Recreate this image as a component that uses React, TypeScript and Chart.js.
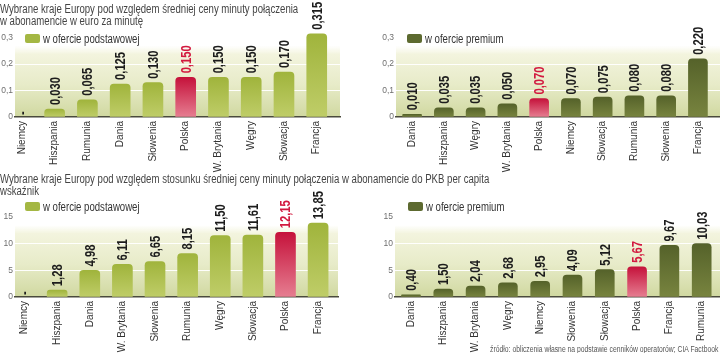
import React, { useEffect, useRef } from 'react';
import { Chart, registerables } from 'chart.js';

Chart.register(...registerables);

// ---------- data ----------
const basicPriceCountries = ['Niemcy', 'Hiszpania', 'Rumunia', 'Dania', 'Słowenia', 'Polska', 'W. Brytania', 'Węgry', 'Słowacja', 'Francja'];
const basicPriceValues: (number | null)[] = [null, 0.03, 0.065, 0.125, 0.13, 0.15, 0.15, 0.15, 0.17, 0.315];

const premiumPriceCountries = ['Dania', 'Hiszpania', 'Węgry', 'W. Brytania', 'Polska', 'Niemcy', 'Słowacja', 'Rumunia', 'Słowenia', 'Francja'];
const premiumPriceValues: (number | null)[] = [0.01, 0.035, 0.035, 0.05, 0.07, 0.07, 0.075, 0.08, 0.08, 0.22];

const basicRatioCountries = ['Niemcy', 'Hiszpania', 'Dania', 'W. Brytania', 'Słowenia', 'Rumunia', 'Węgry', 'Słowacja', 'Polska', 'Francja'];
const basicRatioValues: (number | null)[] = [null, 1.28, 4.98, 6.11, 6.65, 8.15, 11.5, 11.61, 12.15, 13.85];

const premiumRatioCountries = ['Dania', 'Hiszpania', 'W. Brytania', 'Węgry', 'Niemcy', 'Słowenia', 'Słowacja', 'Polska', 'Francja', 'Rumunia'];
const premiumRatioValues: (number | null)[] = [0.4, 1.5, 2.04, 2.68, 2.95, 4.09, 5.12, 5.67, 9.67, 10.03];

const priceTickValues = [0, 0.1, 0.2, 0.3];
const priceTickLabels = ['0', '0,1', '0,2', '0,3'];
const ratioTickValues = [0, 5, 10, 15];
const ratioTickLabels = ['0', '5', '10', '15'];

const highlightCountry = 'Polska';
const basicLegend = 'w ofercie podstawowej';
const premiumLegend = 'w ofercie premium';

const title1 = ['Wybrane kraje Europy pod względem średniej ceny minuty połączenia', 'w abonamencie w euro za minutę'];
const title2 = ['Wybrane kraje Europy pod względem stosunku średniej ceny minuty połączenia w abonamencie do PKB per capita', 'wskaźnik'];
const sourceText = 'źródło: obliczenia własne na podstawie cenników operatorów; CIA Factbook';

// ---------- styles ----------
const FONT = "'Liberation Sans', Arial, sans-serif";
const NARROW = 0.8;
const COLORS = {
  basicTop: '#a0b43c',
  basicBottom: '#bfcd68',
  premiumTop: '#55622a',
  premiumBottom: '#78843f',
  redTop: '#c5123b',
  redBottom: '#e67e91',
  basicSwatch: '#a4b743',
  premiumSwatch: '#5d6a30',
  label: '#1c1c1c',
  labelRed: '#d2193f',
  tick: '#6f6f6f',
  cat: '#333333',
  axis: '#4a4a3c',
};

type Panel = {
  key: string;
  left: number; top: number; width: number; height: number;
  categories: string[]; values: (number | null)[];
  decimals: number; tickValues: number[]; tickLabels: string[];
  yMax: number; bandTop: number;
  xMin: number; xMax: number;
  axisWidth: number; axisHeight: number; padRight: number;
  barThickness: number; tone: 'basic' | 'premium';
  legend: string; legendLeft: number; legendTop: number;
};

const panels: Panel[] = [
  {
    key: 'p1', left: 0, top: 0, width: 345, height: 178,
    categories: basicPriceCountries, values: basicPriceValues, decimals: 3,
    tickValues: priceTickValues, tickLabels: priceTickLabels,
    yMax: 0.4427, bandTop: 0.27, xMin: -0.21, xMax: 9.71,
    axisWidth: 15, axisHeight: 61, padRight: 5, barThickness: 20, tone: 'basic',
    legend: basicLegend, legendLeft: 25, legendTop: 34,
  },
  {
    key: 'p2', left: 360, top: 0, width: 360, height: 178,
    categories: premiumPriceCountries, values: premiumPriceValues, decimals: 3,
    tickValues: priceTickValues, tickLabels: priceTickLabels,
    yMax: 0.4427, bandTop: 0.27, xMin: -0.507, xMax: 9.695,
    axisWidth: 36, axisHeight: 61, padRight: 0, barThickness: 19, tone: 'premium',
    legend: premiumLegend, legendLeft: 407, legendTop: 34,
  },
  {
    key: 'p3', left: 0, top: 180, width: 345, height: 173,
    categories: basicRatioCountries, values: basicRatioValues, decimals: 2,
    tickValues: ratioTickValues, tickLabels: ratioTickLabels,
    yMax: 21.94, bandTop: 13.5, xMin: -0.293, xMax: 9.61,
    axisWidth: 15, axisHeight: 56, padRight: 7, barThickness: 20, tone: 'basic',
    legend: basicLegend, legendLeft: 25, legendTop: 202,
  },
  {
    key: 'p4', left: 360, top: 180, width: 360, height: 173,
    categories: premiumRatioCountries, values: premiumRatioValues, decimals: 2,
    tickValues: ratioTickValues, tickLabels: ratioTickLabels,
    yMax: 21.94, bandTop: 13.5, xMin: -0.495, xMax: 9.567,
    axisWidth: 35, axisHeight: 56, padRight: 0, barThickness: 19, tone: 'premium',
    legend: premiumLegend, legendLeft: 408, legendTop: 202,
  },
];

// ---------- plugins ----------
const bandPlugin = {
  id: 'band',
  beforeDraw(chart: any, _args: any, opts: any) {
    const { ctx, chartArea, scales } = chart;
    const y = scales.y;
    const top = y.getPixelForValue(opts.top);
    const bottom = y.getPixelForValue(0);
    const g = ctx.createLinearGradient(0, top, 0, bottom);
    g.addColorStop(0, 'rgba(245,246,226,0)');
    g.addColorStop(0.12, 'rgba(243,244,222,1)');
    g.addColorStop(0.55, '#e7ebc8');
    g.addColorStop(1, '#d0d8a0');
    ctx.save();
    ctx.fillStyle = g;
    ctx.fillRect(chartArea.left, top, chartArea.right - chartArea.left, bottom - top);
    ctx.restore();
  },
};

const valueLabelPlugin = {
  id: 'valueLabels',
  afterDatasetsDraw(chart: any, _args: any, opts: any) {
    const { ctx, scales } = chart;
    const x = scales.x;
    const y = scales.y;
    const values: (number | null)[] = opts.values;
    const cats: string[] = opts.categories;
    values.forEach((v, i) => {
      const px = x.getPixelForValue(i);
      const py = y.getPixelForValue(v == null ? 0 : v);
      const text = v == null ? '-' : v.toFixed(opts.decimals).replace('.', ',');
      ctx.save();
      ctx.translate(px + 1, py - (v == null ? 2 : 4));
      ctx.rotate(-Math.PI / 2);
      ctx.scale(NARROW, 1);
      ctx.font = `bold 14px ${FONT}`;
      ctx.fillStyle = cats[i] === highlightCountry ? COLORS.labelRed : COLORS.label;
      ctx.textAlign = 'left';
      ctx.textBaseline = 'middle';
      ctx.fillText(text, 0, 0);
      ctx.restore();
    });
  },
};

function barColor(p: Panel) {
  return (c: any) => {
    const chart = c.chart;
    const y = chart.scales?.y;
    const isRed = p.categories[c.dataIndex] === highlightCountry;
    const top = isRed ? COLORS.redTop : p.tone === 'basic' ? COLORS.basicTop : COLORS.premiumTop;
    const bottom = isRed ? COLORS.redBottom : p.tone === 'basic' ? COLORS.basicBottom : COLORS.premiumBottom;
    const v = p.values[c.dataIndex];
    if (!y || v == null) return top;
    const y0 = y.getPixelForValue(v);
    const y1 = y.getPixelForValue(0);
    if (!isFinite(y0) || !isFinite(y1) || y0 === y1) return top;
    const g = chart.ctx.createLinearGradient(0, y0, 0, y1);
    g.addColorStop(0, top);
    g.addColorStop(1, bottom);
    return g;
  };
}

function PanelChart({ p }: { p: Panel }) {
  const ref = useRef<HTMLCanvasElement | null>(null);
  useEffect(() => {
    if (!ref.current) return;
    const chart = new Chart(ref.current, {
      type: 'bar',
      data: {
        datasets: [
          {
            data: p.values.map((v, i) => ({ x: i, y: v })) as any,
            backgroundColor: barColor(p) as any,
            borderRadius: { topLeft: 4, topRight: 4, bottomLeft: 0, bottomRight: 0 },
            borderSkipped: 'bottom',
            barThickness: p.barThickness,
          },
        ],
      },
      options: {
        animation: false,
        responsive: false,
        events: [],
        layout: { padding: { left: 0, right: p.padRight, top: 0, bottom: 0 } },
        plugins: {
          legend: { display: false },
          tooltip: { enabled: false },
          band: { top: p.bandTop },
          valueLabels: { values: p.values, categories: p.categories, decimals: p.decimals },
        } as any,
        scales: {
          x: {
            type: 'linear',
            offset: false,
            min: p.xMin,
            max: p.xMax,
            z: 1,
            afterBuildTicks: (s: any) => {
              s.ticks = p.categories.map((_, i) => ({ value: i }));
            },
            afterFit: (s: any) => {
              s.height = p.axisHeight;
              s.paddingLeft = 0;
              s.paddingRight = 0;
            },
            grid: { display: true, offset: false, drawOnChartArea: false, drawTicks: false, color: 'rgba(0,0,0,0)' },
            border: { display: true, color: COLORS.axis, width: 1.6 },
            ticks: {
              autoSkip: false,
              minRotation: 90,
              maxRotation: 90,
              padding: 4,
              color: COLORS.cat,
              font: { family: FONT, size: 10 },
              callback: (_v: any, i: number) => p.categories[i],
            },
          },
          y: {
            type: 'linear',
            min: 0,
            max: p.yMax,
            afterBuildTicks: (s: any) => {
              s.ticks = p.tickValues.map((v) => ({ value: v }));
            },
            afterFit: (s: any) => {
              s.width = p.axisWidth;
              s.paddingTop = 0;
              s.paddingBottom = 0;
            },
            grid: {
              drawTicks: false,
              color: (c: any) => (c.tick && c.tick.value === 0 ? 'rgba(0,0,0,0)' : 'rgba(255,255,255,0.95)'),
              lineWidth: 1,
            },
            border: { display: false },
            ticks: {
              padding: 2,
              color: COLORS.tick,
              font: { family: FONT, size: 8.5 },
              callback: (_v: any, i: number) => p.tickLabels[i],
            },
          },
        },
      },
      plugins: [bandPlugin, valueLabelPlugin],
    });
    return () => chart.destroy();
  }, [p]);
  return (
    <canvas
      ref={ref}
      width={p.width}
      height={p.height}
      style={{ position: 'absolute', left: p.left, top: p.top, width: p.width, height: p.height }}
    />
  );
}

function Legend({ p }: { p: Panel }) {
  return (
    <div
      style={{
        position: 'absolute', left: p.legendLeft, top: p.legendTop, height: 9,
        display: 'flex', alignItems: 'center', whiteSpace: 'nowrap',
        fontSize: 12, color: '#333', fontFamily: FONT,
      }}
    >
      <span
        style={{
          display: 'inline-block', width: 15, height: 9, borderRadius: 2,
          background: p.tone === 'basic' ? COLORS.basicSwatch : COLORS.premiumSwatch, marginRight: 3,
        }}
      />
      <span style={{ display: 'inline-block', transform: `scaleX(${NARROW})`, transformOrigin: 'left center' }}>{p.legend}</span>
    </div>
  );
}

const narrowLeft = { transform: `scaleX(${NARROW})`, transformOrigin: 'left top' };

export default function App() {
  return (
    <div
      style={{
        position: 'absolute', left: 0, top: 0, width: 720, height: 353,
        overflow: 'hidden', background: '#ffffff', fontFamily: FONT,
      }}
    >
      {panels.map((p) => (
        <PanelChart key={p.key} p={p} />
      ))}
      {panels.map((p) => (
        <Legend key={'l' + p.key} p={p} />
      ))}
      <div style={{ position: 'absolute', left: 0, top: 3, fontSize: 12, lineHeight: '12px', color: '#444', whiteSpace: 'nowrap', ...narrowLeft }}>
        {title1[0]}
        <br />
        {title1[1]}
      </div>
      <div style={{ position: 'absolute', left: 0, top: 174, fontSize: 12, lineHeight: '11.5px', color: '#444', whiteSpace: 'nowrap', ...narrowLeft }}>
        {title2[0]}
        <br />
        {title2[1]}
      </div>
      <div style={{ position: 'absolute', right: 2, top: 344, fontSize: 8.5, lineHeight: '10px', color: '#555', whiteSpace: 'nowrap', transform: `scaleX(${NARROW})`, transformOrigin: 'right top' }}>
        {sourceText}
      </div>
    </div>
  );
}
